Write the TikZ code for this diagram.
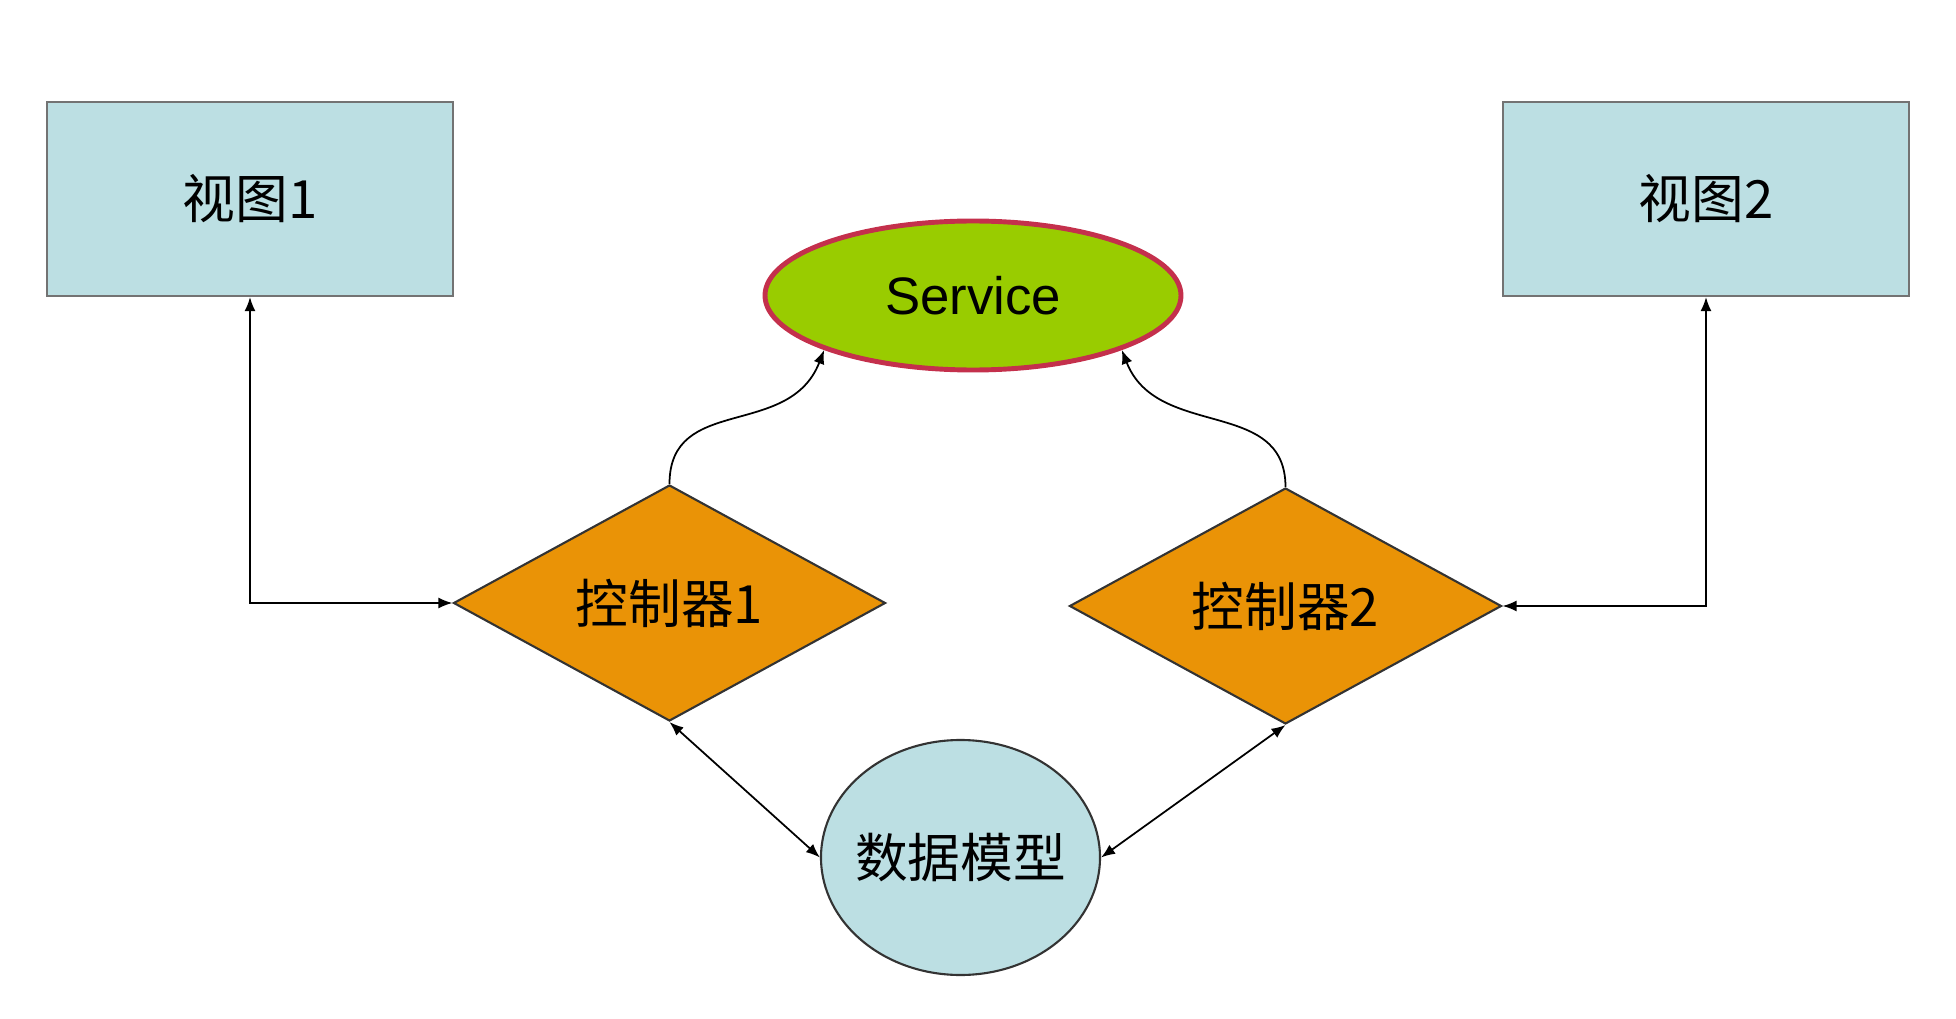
\documentclass[tikz,border=0pt]{standalone}
\usepackage{xcolor}
\usepackage{tikz}
\usepackage{fontspec}
\setmainfont{Liberation Sans}
\newfontfamily\cjk{Noto Sans CJK SC}
\usetikzlibrary{shapes.geometric,arrows.meta}

\definecolor{viewblue}{HTML}{BCDFE3}
\definecolor{svcgreen}{HTML}{99CC00}
\definecolor{svcred}{HTML}{C4304C}
\definecolor{ctrlorange}{HTML}{EA9306}

\begin{document}
\begin{tikzpicture}[
    viewbox/.style={draw=gray!90!black, line width=0.6pt, fill=viewblue, minimum width=4.06cm, minimum height=1.94cm, inner sep=0pt, font=\cjk\fontsize{15}{18}\selectfont},
    ctrlbox/.style={diamond, draw=black!80, line width=0.6pt, fill=ctrlorange, minimum width=4.32cm, minimum height=2.34cm, inner sep=0pt, font=\cjk\fontsize{15}{18}\selectfont},
    link/.style={line width=0.5pt, >={Latex[length=1.4mm,width=1.1mm]}}
]
            \useasboundingbox (0,0) rectangle (19.56,10.18);

            % Views
            \node[viewbox] (v1) at (2.50,8.19) {视图1};
            \node[viewbox] (v2) at (17.06,8.19) {视图2};

            % Service
            \node[ellipse, draw=svcred, line width=1.4pt, fill=svcgreen, minimum width=4.16cm, minimum height=1.49cm, inner sep=0pt, font=\fontsize{15}{18}\selectfont] (svc) at (9.73,7.225) {Service};

            % Controllers
            \node[ctrlbox] (c1) at (6.695,4.15) {控制器1};
            \node[ctrlbox] (c2) at (12.855,4.12) {控制器2};

            % Data Model
            \node[ellipse, draw=black!80, line width=0.6pt, fill=viewblue, minimum width=2.79cm, minimum height=2.35cm, inner xsep=-0.1cm, inner ysep=0pt, font=\cjk\fontsize{15}{18}\selectfont] (model) at (9.605,1.605) {数据模型};

            % Arrows
            \draw[link, <->] (c1.west) -| (v1.south);
            \draw[link, <->] (c2.east) -| (v2.south);
            \draw[link, ->] (c1.north) .. controls +(0,0.9) and +(-0.35,-0.9) .. (svc.south west);
            \draw[link, ->] (c2.north) .. controls +(0,0.9) and +(0.35,-0.9) .. (svc.south east);
            \draw[link, <->] (c1.south) -- (model.west);
            \draw[link, <->] (c2.south) -- (model.east);
\end{tikzpicture}
\end{document}
